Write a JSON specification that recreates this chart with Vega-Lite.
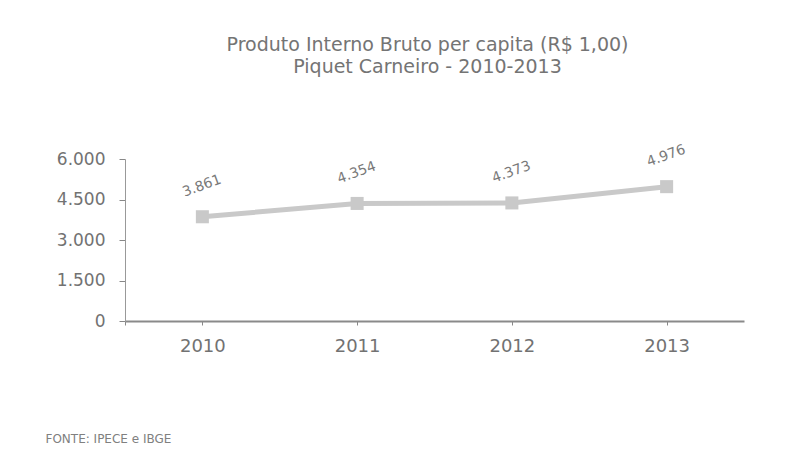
{
  "$schema": "https://vega.github.io/schema/vega-lite/v6.json",
  "width": 619,
  "height": 162,
  "autosize": {"type": "none"},
  "padding": {"left": 125, "top": 159, "right": 46, "bottom": 147},
  "background": "white",
  "config": {
    "locale": {"number": {"decimal": ",", "thousands": ".", "grouping": [3], "currency": ["R$", ""]}},
    "view": {"stroke": null},
    "font": "DejaVu Sans"
  },
  "title": {
    "text": ["Produto Interno Bruto per capita (R$ 1,00)", "Piquet  Carneiro - 2010-2013"],
    "anchor": "middle",
    "offset": 66,
    "fontSize": 19,
    "fontWeight": "normal",
    "color": "#747474",
    "lineHeight": 22,
    "dx": -7
  },
  "data": {
    "values": [
      {"ano": "2010", "pib": 3861},
      {"ano": "2011", "pib": 4354},
      {"ano": "2012", "pib": 4373},
      {"ano": "2013", "pib": 4976}
    ]
  },
  "encoding": {
    "x": {
      "field": "ano",
      "type": "ordinal",
      "scale": {"paddingInner": 0, "paddingOuter": 0},
      "axis": {
        "title": "FONTE: IPECE e IBGE",
        "titleAnchor": "start",
        "titleAlign": "left",
        "titleBaseline": "middle",
        "titleX": -80,
        "titleY": 117,
        "titleFontSize": 12,
        "titleFontWeight": "normal",
        "titleColor": "#808080",
        "labelAngle": 0,
        "labelFontSize": 18,
        "labelColor": "#727272",
        "labelPadding": 12,
        "bandPosition": 0,
        "tickExtra": true,
        "tickSize": 4,
        "tickColor": "#888888",
        "domainColor": "#8a8a8a",
        "domainWidth": 2,
        "grid": false
      }
    },
    "y": {
      "field": "pib",
      "type": "quantitative",
      "scale": {"domain": [0, 6000]},
      "axis": {
        "title": null,
        "values": [0, 1500, 3000, 4500, 6000],
        "format": ",d",
        "labelFontSize": 17,
        "labelColor": "#727272",
        "labelPadding": 14,
        "tickSize": 6,
        "tickColor": "#888888",
        "domainColor": "#999999",
        "grid": false
      }
    }
  },
  "layer": [
    {
      "mark": {"type": "line", "color": "#c9c9c9", "strokeWidth": 5}
    },
    {
      "mark": {"type": "point", "shape": "square", "filled": true, "color": "#c9c9c9", "size": 170, "opacity": 1}
    },
    {
      "mark": {"type": "text", "angle": -20, "dx": 10, "dy": -29, "fontSize": 14, "color": "#7a7a7a"},
      "encoding": {"text": {"field": "pib", "type": "quantitative", "format": ",d"}}
    }
  ]
}
